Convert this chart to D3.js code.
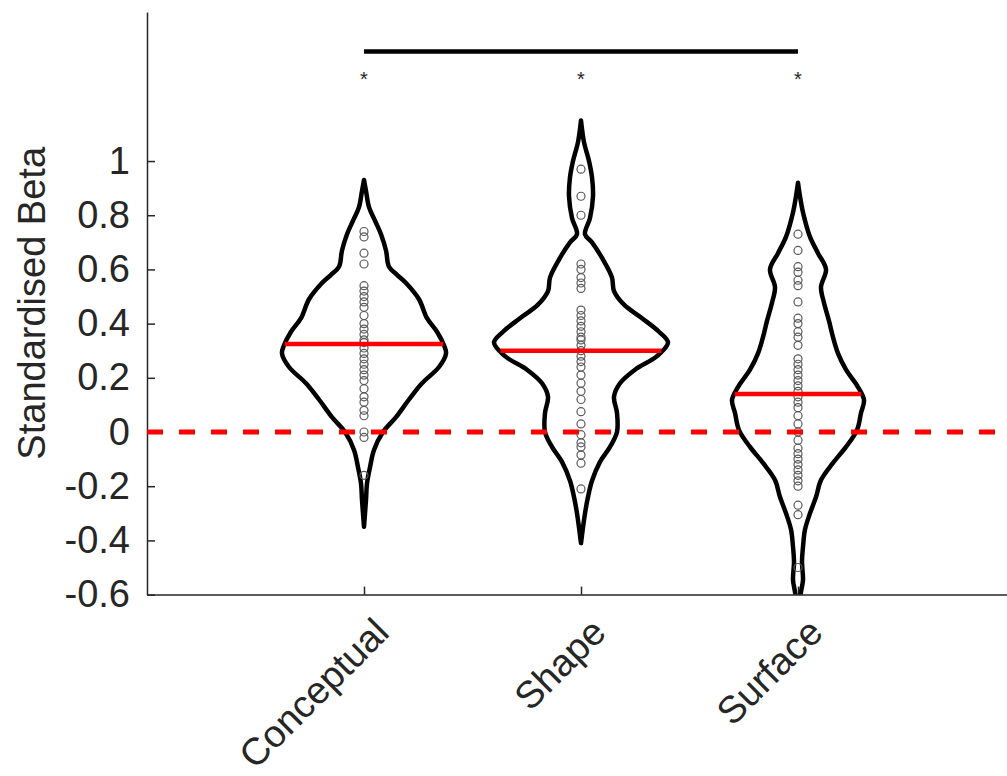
<!DOCTYPE html>
<html lang="en">
<head>
  <meta charset="UTF-8">
  <title>Standardised Beta violins</title>
  <style>
    body { margin: 0; background: #fff; }
    text { font-family: "Liberation Sans", Arial, sans-serif; fill: #262626; }
    .axis path, .axis line { stroke: #262626; stroke-width: 1.5; }
    .axis text { font-size: 38px; }
  </style>
</head>
<body>
  <div id="my_dataviz"></div>

  <script src="https://d3js.org/d3.v7.min.js"></script>
  <script>
    // ## Data
    const categories = ["Conceptual", "Shape", "Surface"];
    const yTicks = [-0.6, -0.4, -0.2, 0, 0.2, 0.4, 0.6, 0.8, 1];
    const yTickLabels = ["-0.6", "-0.4", "-0.2", "0", "0.2", "0.4", "0.6", "0.8", "1"];
    const means = [0.325, 0.30, 0.14];
    const starLabels = ["*", "*", "*"];

    const conceptualPoints = [0.74, 0.72, 0.66, 0.62, 0.54, 0.52, 0.50, 0.48, 0.46, 0.43,
      0.40, 0.38, 0.36, 0.34, 0.33, 0.31, 0.29, 0.27, 0.25, 0.23, 0.21, 0.19, 0.16,
      0.13, 0.11, 0.08, 0.06, 0.0, -0.02, -0.16];
    const shapePoints = [0.97, 0.87, 0.80, 0.62, 0.60, 0.57, 0.55, 0.53, 0.45, 0.43,
      0.41, 0.39, 0.37, 0.35, 0.34, 0.32, 0.30, 0.28, 0.26, 0.24, 0.21, 0.18, 0.15,
      0.12, 0.075, 0.03, -0.01, -0.04, -0.055, -0.085, -0.115, -0.21];
    const surfacePoints = [0.73, 0.67, 0.61, 0.59, 0.56, 0.54, 0.48, 0.42, 0.40, 0.37,
      0.35, 0.32, 0.27, 0.25, 0.23, 0.21, 0.19, 0.17, 0.15, 0.13, 0.11, 0.09, 0.06,
      0.03, 0.0, -0.03, -0.06, -0.08, -0.10, -0.12, -0.14, -0.16, -0.18, -0.20,
      -0.27, -0.305, -0.50];

    // violin outlines: [value, density]
    const conceptualDensity = [[0.93, 0], [0.89, 0.02], [0.83, 0.05], [0.78, 0.11], [0.73, 0.17],
      [0.67, 0.22], [0.61, 0.25], [0.58, 0.33], [0.55, 0.42], [0.49, 0.55], [0.42, 0.63],
      [0.37, 0.73], [0.32, 0.80], [0.29, 0.82], [0.24, 0.75], [0.18, 0.58], [0.12, 0.45],
      [0.055, 0.32], [0.0, 0.19], [-0.066, 0.10], [-0.13, 0.06], [-0.19, 0.03],
      [-0.25, 0.02], [-0.35, 0]];
    const shapeDensity = [[1.15, 0], [1.07, 0.03], [1.0, 0.08], [0.94, 0.11], [0.87, 0.12],
      [0.79, 0.09], [0.73, 0.04], [0.70, 0.11], [0.63, 0.23], [0.57, 0.31], [0.52, 0.33],
      [0.47, 0.43], [0.42, 0.61], [0.37, 0.78], [0.33, 0.87], [0.28, 0.76], [0.23, 0.54],
      [0.18, 0.39], [0.13, 0.33], [0.07, 0.36], [0.0, 0.36], [-0.055, 0.29], [-0.11, 0.19],
      [-0.18, 0.11], [-0.24, 0.07], [-0.30, 0.04], [-0.41, 0]];
    const surfaceDensity = [[0.92, 0], [0.87, 0.02], [0.81, 0.05], [0.72, 0.12], [0.66, 0.20],
      [0.60, 0.28], [0.535, 0.23], [0.477, 0.26], [0.41, 0.31], [0.35, 0.35], [0.29, 0.40],
      [0.23, 0.48], [0.166, 0.60], [0.118, 0.66], [0.07, 0.63], [0.007, 0.59],
      [-0.055, 0.48], [-0.114, 0.35], [-0.177, 0.23], [-0.24, 0.18], [-0.30, 0.12],
      [-0.36, 0.07], [-0.424, 0.05], [-0.48, 0.04], [-0.546, 0.05], [-0.59, 0.03], [-0.65, 0.01]];

    const pointsByCat = [conceptualPoints, shapePoints, surfacePoints];
    const densityByCat = [conceptualDensity, shapeDensity, surfaceDensity];

    function drawChart() {
      const dimensions = {width: 1007, height: 776};

      const svg = d3.select("#my_dataviz")
        .append("svg")
          .attr("width", dimensions.width)
          .attr("height", dimensions.height);

      // ## Scales
      const xScale = d3.scaleLinear().domain([0, 4]).range([147, 1015]);
      const yScale = d3.scaleLinear().domain([-0.6, 1.55]).range([594.6, 12]);
      const wScale = d3.scaleLinear().domain([0, 1]).range([0, 100]);

      svg.append("clipPath").attr("id", "plotclip")
        .append("rect")
          .attr("x", xScale(0)).attr("y", 0)
          .attr("width", dimensions.width - xScale(0))
          .attr("height", yScale(-0.6));

      // ## Axes
      svg.append("g")
        .attr("class", "axis")
        .attr("transform", `translate(${xScale(0)},0)`)
        .call(d3.axisLeft(yScale)
          .tickValues(yTicks)
          .tickFormat((d, i) => yTickLabels[i])
          .tickSize(-8)
          .tickSizeOuter(0)
          .tickPadding(17));

      svg.append("g")
        .attr("class", "axis")
        .attr("transform", `translate(0,${yScale(-0.6)})`)
        .call(d3.axisBottom(xScale)
          .tickValues([1, 2, 3])
          .tickFormat("")
          .tickSize(-8)
          .tickSizeOuter(0));

      svg.selectAll(".catlabel")
        .data(categories)
        .join("text")
          .attr("class", "catlabel")
          .attr("text-anchor", "end")
          .style("font-size", "38px")
          .attr("transform", (d, i) => `translate(${xScale(i + 1) + 27},${yScale(-0.6) + 40}) rotate(-45)`)
          .text(d => d);

      svg.append("text")
        .attr("text-anchor", "middle")
        .style("font-size", "38px")
        .attr("transform", `translate(45,${(yScale(-0.6) + yScale(1.55)) / 2}) rotate(-90)`)
        .text("Standardised Beta");

      // ## Violins
      const plot = svg.append("g").attr("clip-path", "url(#plotclip)");

      densityByCat.forEach((dens, i) => {
        const cx = xScale(i + 1);
        const area = d3.area()
          .y(d => yScale(d[0]))
          .x0(d => cx - wScale(d[1]))
          .x1(d => cx + wScale(d[1]))
          .curve(d3.curveCatmullRom);
        plot.append("path")
          .attr("d", area(dens))
          .attr("fill", "none")
          .attr("stroke", "#000")
          .attr("stroke-width", 4.5)
          .attr("stroke-linejoin", "round");
      });

      // points
      pointsByCat.forEach((pts, i) => {
        plot.selectAll(null)
          .data(pts)
          .join("circle")
            .attr("cx", xScale(i + 1))
            .attr("cy", d => yScale(d))
            .attr("r", 4)
            .attr("fill", "none")
            .attr("stroke", "#5a5a5a")
            .attr("stroke-width", 1.2);
      });

      // mean lines, width taken from the outline at the mean
      function halfWidthAt(dens, v) {
        const sorted = dens.slice().sort((a, b) => a[0] - b[0]);
        for (let k = 0; k < sorted.length - 1; k++) {
          const a = sorted[k], b = sorted[k + 1];
          if (v >= a[0] && v <= b[0]) {
            return a[1] + (b[1] - a[1]) * (v - a[0]) / (b[0] - a[0]);
          }
        }
        return 0;
      }

      means.forEach((m, i) => {
        const cx = xScale(i + 1);
        const hw = wScale(halfWidthAt(densityByCat[i], m));
        plot.append("line")
          .attr("x1", cx - hw).attr("x2", cx + hw)
          .attr("y1", yScale(m)).attr("y2", yScale(m))
          .attr("stroke", "#ff0000")
          .attr("stroke-width", 4.5);
      });

      // zero line
      svg.append("line")
        .attr("x1", xScale(0)).attr("x2", dimensions.width)
        .attr("y1", yScale(0)).attr("y2", yScale(0))
        .attr("stroke", "#ff0000")
        .attr("stroke-width", 5)
        .attr("stroke-dasharray", "16,16");

      // ## Significance
      svg.append("line")
        .attr("x1", xScale(1)).attr("x2", xScale(3))
        .attr("y1", 51.5).attr("y2", 51.5)
        .attr("stroke", "#000")
        .attr("stroke-width", 4.5);

      svg.selectAll(".star")
        .data(starLabels)
        .join("text")
          .attr("class", "star")
          .attr("x", (d, i) => xScale(i + 1))
          .attr("y", 86)
          .attr("text-anchor", "middle")
          .style("font-size", "20px")
          .text(d => d);
    }

    drawChart();
  </script>
</body>
</html>
